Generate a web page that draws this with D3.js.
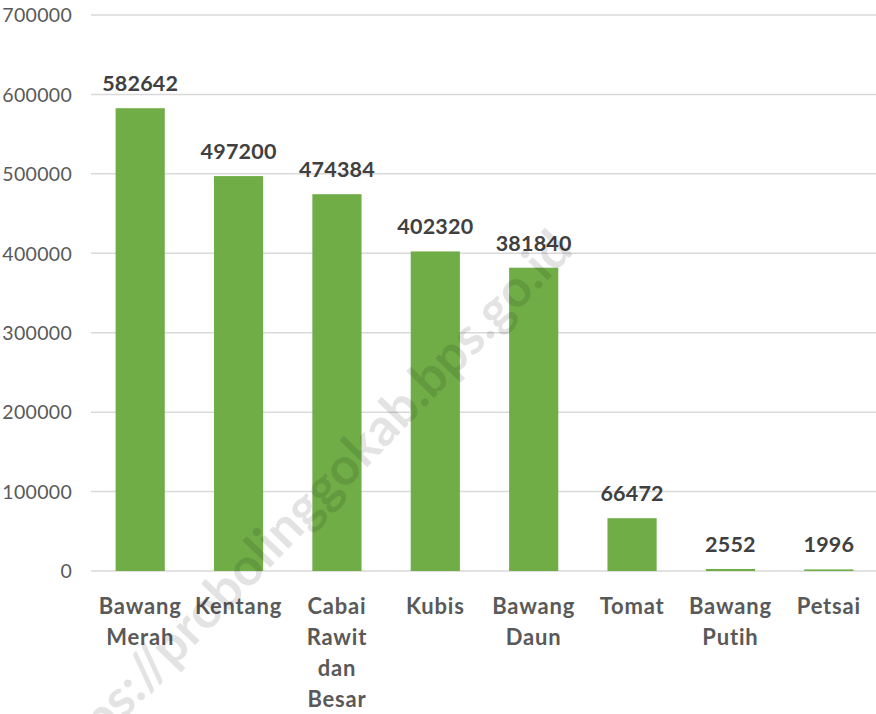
<!DOCTYPE html>
<html><head><meta charset="utf-8">
<script src="https://cdn.jsdelivr.net/npm/d3@7"></script>
<style>body{margin:0;background:#fff}svg{display:block}</style>
</head><body>
<script>
const categories = ["Bawang Merah","Kentang","Cabai Rawit dan Besar","Kubis","Bawang Daun","Tomat","Bawang Putih","Petsai"];
const labelLines = [["Bawang","Merah"],["Kentang"],["Cabai","Rawit","dan","Besar"],["Kubis"],["Bawang","Daun"],["Tomat"],["Bawang","Putih"],["Petsai"]];
const values = [582642,497200,474384,402320,381840,66472,2552,1996];
const yTicks = [0,100000,200000,300000,400000,500000,600000,700000];
const watermark = "https://probolinggokab.bps.go.id";

const W=876,H=714;
const svg=d3.select("body").append("svg").attr("width",W).attr("height",H);
const font="Lato, 'Open Sans', sans-serif";

const x=d3.scaleBand().domain(categories).range([91,878]).paddingInner(0.5).paddingOuter(0.25);
const y=d3.scaleLinear().domain([0,700000]).range([571,15]);

// gridlines
svg.append("g").selectAll("line").data(yTicks).join("line")
  .attr("x1",91).attr("x2",W).attr("y1",d=>y(d)).attr("y2",d=>y(d))
  .attr("stroke","#d9d9d9").attr("stroke-width",1.5);

// y axis labels
const yAxis=d3.axisLeft(y).tickValues(yTicks).tickFormat(d3.format("d")).tickSize(0).tickPadding(0);
const ga=svg.append("g").attr("transform","translate(72,0)").call(yAxis);
ga.select(".domain").remove();
ga.selectAll("text").attr("font-family",font).attr("font-size",19.5).attr("letter-spacing",0.3)
  .attr("fill","#595959").attr("dy","0.35em");

// bars
svg.append("g").selectAll("rect").data(values).join("rect")
  .attr("x",(d,i)=>x(categories[i])).attr("width",x.bandwidth())
  .attr("y",d=>y(d)).attr("height",d=>y(0)-y(d)).attr("fill","#70ad47");

// data labels
svg.append("g").selectAll("text").data(values).join("text")
  .attr("x",(d,i)=>x(categories[i])+x.bandwidth()/2).attr("y",d=>y(d)-17)
  .attr("text-anchor","middle").attr("font-family",font).attr("font-weight","bold")
  .attr("font-size",21.5).attr("letter-spacing",0.2).attr("fill","#404040").text(d=>d);

// x labels
const gx=svg.append("g");
labelLines.forEach((lines,i)=>{
  const t=gx.append("text").attr("text-anchor","middle").attr("font-family",font)
    .attr("font-weight","bold").attr("font-size",22).attr("letter-spacing",0.8).attr("fill","#595959");
  lines.forEach((l,j)=>t.append("tspan").attr("x",x(categories[i])+x.bandwidth()/2).attr("y",614+31*j).text(l));
});

// watermark
svg.append("text").attr("transform","translate(575,252) rotate(-46)")
  .attr("text-anchor","end").attr("font-family",font).attr("font-weight","bold")
  .attr("font-size",52).attr("fill","#000").attr("fill-opacity",0.11).text(watermark);
</script>
</body></html>
